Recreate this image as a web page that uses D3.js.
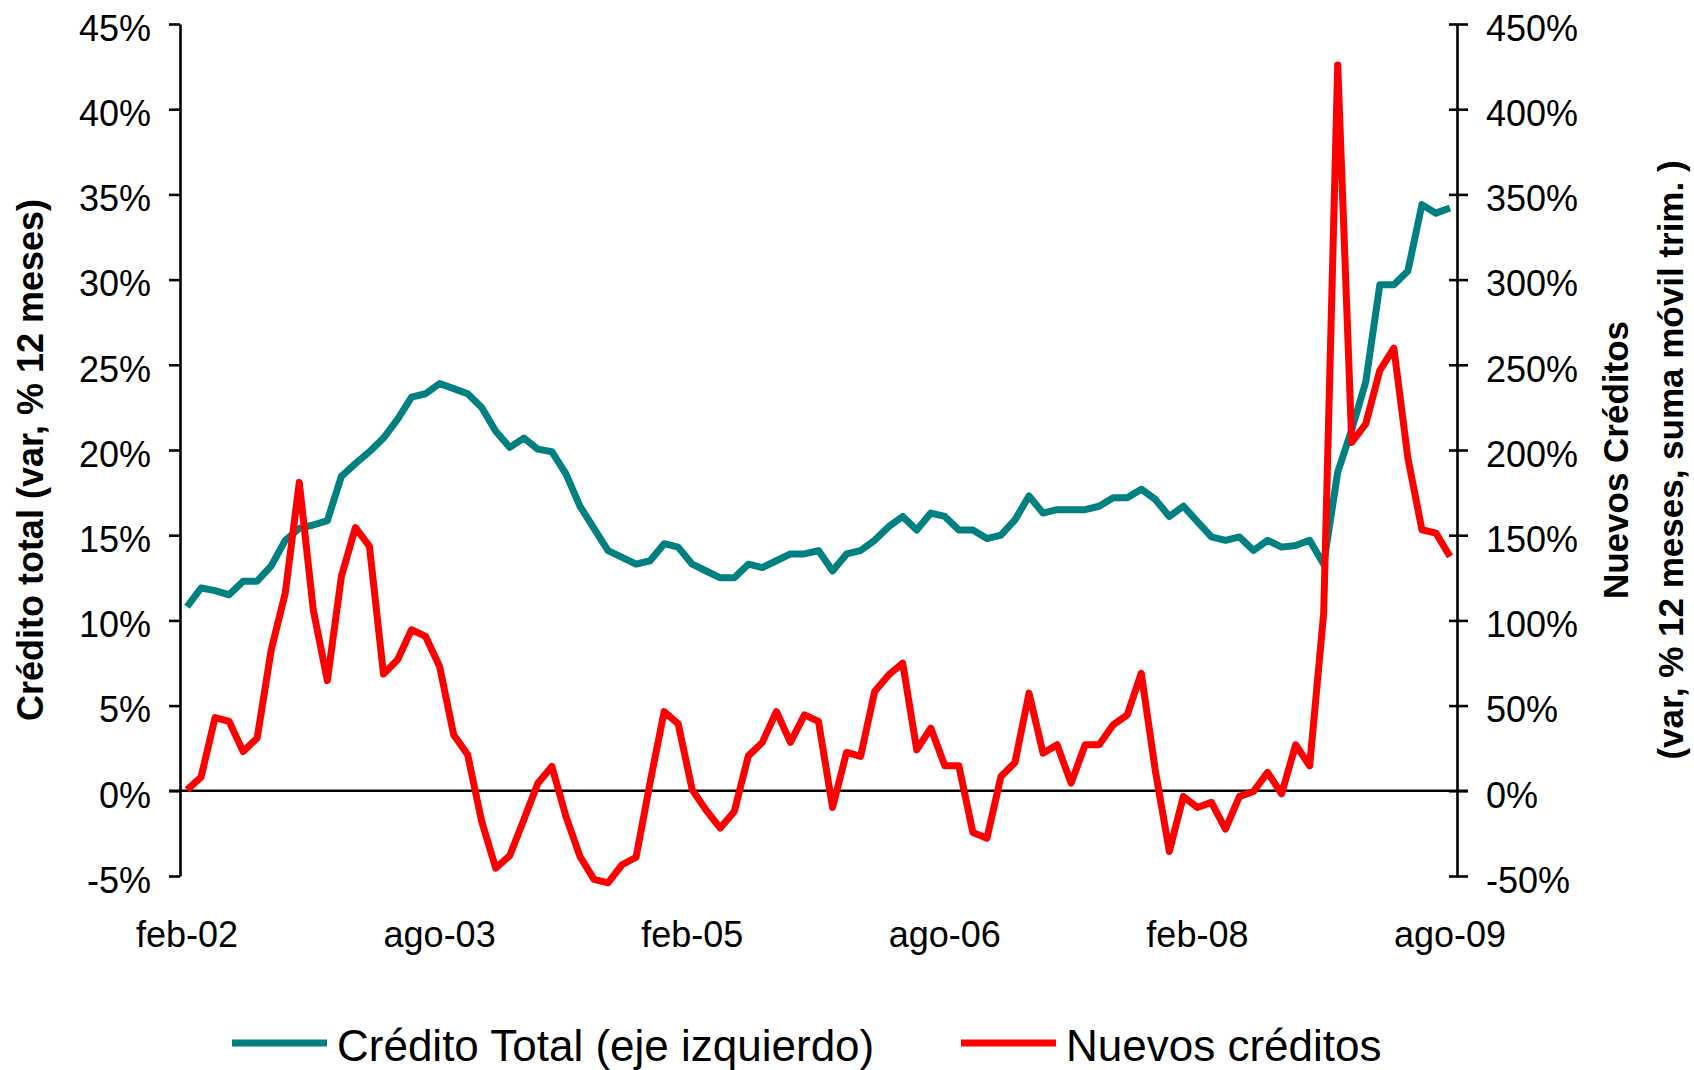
<!DOCTYPE html>
<html>
<head>
<meta charset="utf-8">
<script src="https://cdn.jsdelivr.net/npm/d3@7"></script>
<style>
  body { margin: 0; background: #fff; }
  svg { display: block; font-family: "Liberation Sans", Arial, sans-serif; }
</style>
</head>
<body>
<svg id="chart" width="1694" height="1070"></svg>
<script>
// months feb-02 .. ago-09
var monthNames = ["ene","feb","mar","abr","may","jun","jul","ago","sep","oct","nov","dic"];
var months = [];
for (var k = 1; k <= 91; k++) {
  var yy = 2002 + Math.floor(k / 12);
  months.push(monthNames[k % 12] + "-" + String(yy).slice(2));
}

var xTickLabels = ["feb-02", "ago-03", "feb-05", "ago-06", "feb-08", "ago-09"];
var leftTicks = [-5, 0, 5, 10, 15, 20, 25, 30, 35, 40, 45];
var rightTicks = [-50, 0, 50, 100, 150, 200, 250, 300, 350, 400, 450];

// Crédito total, var % 12 meses (eje izquierdo)
var creditoTotal = [
  10.8, 11.9, 11.75, 11.5, 12.3, 12.3, 13.2, 14.7, 15.4, 15.6,
  15.85, 18.45, 19.2, 19.9, 20.7, 21.8, 23.1, 23.3, 23.9, 23.6,
  23.3, 22.5, 21.1, 20.15, 20.7, 20.05, 19.9, 18.6, 16.7, 15.4,
  14.1, 13.7, 13.3, 13.5, 14.5, 14.3, 13.3, 12.9, 12.5, 12.5,
  13.3, 13.1, 13.5, 13.9, 13.9, 14.1, 12.9, 13.9, 14.1, 14.7,
  15.5, 16.1, 15.3, 16.3, 16.1, 15.3, 15.3, 14.8, 15.0, 15.9,
  17.3, 16.3, 16.5, 16.5, 16.5, 16.7, 17.2, 17.2, 17.7, 17.1,
  16.1, 16.7, 15.8, 14.9, 14.7, 14.9, 14.1, 14.7, 14.3, 14.4,
  14.7, 13.3, 18.7, 21.2, 24.0, 29.7, 29.7, 30.5, 34.4, 33.9,
  34.2
];

// Nuevos créditos, var % 12 meses, suma móvil trim. (eje derecho)
var nuevosCreditos = [
  0.6, 8, 43, 40.7, 23, 31, 82.7, 116, 181, 106,
  64.7, 125.8, 154.5, 143.4, 68.5, 76.9, 94.5, 90.6, 73, 32.9,
  21.1, -18, -45.4, -38, -17, 4.5, 14.3, -15, -38.5, -52,
  -54, -43.4, -39, 5, 46.5, 39.3, 0.6, -11.5, -21.9, -12.1,
  20.5, 28.4, 46.5, 28.4, 44.6, 40.7, -9.8, 22.5, 20.2, 58.3,
  68, 74.9, 24, 36.8, 14.7, 14.7, -24.5, -27.8, 8.4, 16.6,
  57.3, 22.1, 27, 4.5, 27, 27, 38.7, 44.6, 69, 12,
  -35.6, -3.3, -9.8, -6.8, -22.5, -3.3, -0.4, 10.8, -1.8, 27,
  14.7, 104.3, 426, 204.4, 215.4, 246.7, 259.8, 195.2, 153.2, 151.2,
  137.5
];

var svg = d3.select("#chart");
var plotLeft = 180, plotRight = 1457, plotTop = 24, plotBottom = 876;

var x = d3.scaleBand().domain(months).range([plotLeft, plotRight]).padding(0);
var cx = function(i) { return x(months[i]) + x.bandwidth() / 2; };
var yL = d3.scaleLinear().domain([-5, 45]).range([plotBottom, plotTop]);
var yR = d3.scaleLinear().domain([-50, 450]).range([plotBottom, plotTop]);

// left axis
var gL = svg.append("g")
  .attr("transform", "translate(" + plotLeft + ",0)")
  .call(d3.axisLeft(yL).tickValues(leftTicks).tickSize(11).tickSizeOuter(0)
    .tickPadding(18).tickFormat(function(d) { return d + "%"; }));
gL.select(".domain").attr("stroke", "#000").attr("stroke-width", 2.6);
gL.selectAll(".tick line").attr("stroke", "#000").attr("stroke-width", 2.6);
gL.selectAll(".tick text").attr("font-size", 36).attr("fill", "#000")
  .attr("font-family", "Liberation Sans, Arial, sans-serif").attr("dy", "0.45em");

// right axis
var gR = svg.append("g")
  .attr("transform", "translate(" + plotRight + ",0)")
  .call(d3.axisRight(yR).tickValues(rightTicks).tickSize(11).tickSizeOuter(0)
    .tickPadding(18).tickFormat(function(d) { return d + "%"; }));
gR.select(".domain").attr("stroke", "#000").attr("stroke-width", 2.6);
gR.selectAll(".tick line").attr("x1", -8).attr("stroke", "#000").attr("stroke-width", 2.6);
gR.selectAll(".tick text").attr("font-size", 36).attr("fill", "#000")
  .attr("font-family", "Liberation Sans, Arial, sans-serif").attr("dy", "0.45em");

// zero line
svg.append("line")
  .attr("x1", plotLeft - 11).attr("x2", plotRight + 11)
  .attr("y1", yL(0)).attr("y2", yL(0))
  .attr("stroke", "#000").attr("stroke-width", 2.6);

// x labels
var gX = svg.append("g")
  .attr("transform", "translate(0,947)")
  .call(d3.axisBottom(x).tickValues(xTickLabels).tickSize(0).tickPadding(0));
gX.select(".domain").remove();
gX.selectAll(".tick text").attr("font-size", 36).attr("fill", "#000")
  .attr("font-family", "Liberation Sans, Arial, sans-serif").attr("dy", 0);

// lines
var lineL = d3.line().x(function(d, i) { return cx(i); }).y(function(d) { return yL(d); });
var lineR = d3.line().x(function(d, i) { return cx(i); }).y(function(d) { return yR(d); });

svg.append("path")
  .attr("d", lineL(creditoTotal))
  .attr("fill", "none").attr("stroke", "#008080").attr("stroke-width", 7)
  .attr("stroke-linejoin", "round");

svg.append("path")
  .attr("d", lineR(nuevosCreditos))
  .attr("fill", "none").attr("stroke", "#ff0000").attr("stroke-width", 7)
  .attr("stroke-linejoin", "round");

// axis titles
svg.append("text")
  .attr("transform", "translate(30,460) rotate(-90)")
  .attr("text-anchor", "middle").attr("dy", "0.35em")
  .attr("font-size", 36).attr("font-weight", "bold")
  .text("Crédito total (var, % 12 meses)");

svg.append("text")
  .attr("transform", "translate(1616,460) rotate(-90)")
  .attr("text-anchor", "middle").attr("dy", "0.35em")
  .attr("font-size", 35).attr("font-weight", "bold")
  .text("Nuevos Créditos");

svg.append("text")
  .attr("transform", "translate(1671,460) rotate(-90)")
  .attr("text-anchor", "middle").attr("dy", "0.35em")
  .attr("font-size", 35).attr("font-weight", "bold")
  .text("(var, % 12 meses, suma móvil trim. )");

// legend
var legend = [
  { name: "Crédito Total (eje izquierdo)", color: "#008080", x: 232 },
  { name: "Nuevos créditos", color: "#ff0000", x: 961 }
];
var lg = svg.append("g").selectAll("g").data(legend).enter().append("g");
lg.append("line")
  .attr("x1", function(d) { return d.x; }).attr("x2", function(d) { return d.x + 95; })
  .attr("y1", 1043).attr("y2", 1043)
  .attr("stroke", function(d) { return d.color; }).attr("stroke-width", 7);
lg.append("text")
  .attr("x", function(d) { return d.x + 105; }).attr("y", 1061)
  .attr("font-size", 44).attr("fill", "#000")
  .text(function(d) { return d.name; });
</script>
</body>
</html>
